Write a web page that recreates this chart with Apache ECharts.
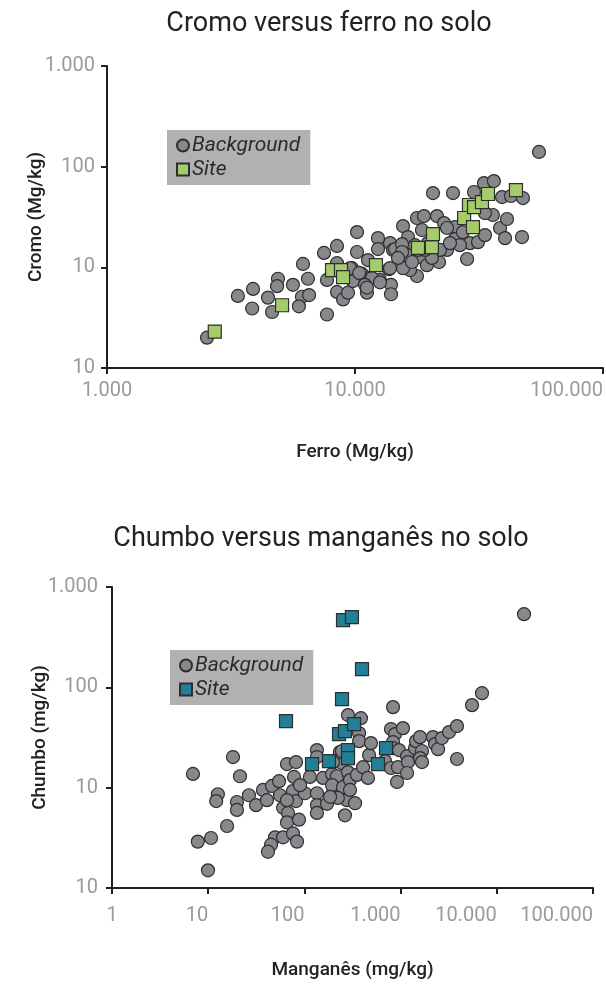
<!DOCTYPE html>
<html lang="pt">

<head>
    <meta charset="UTF-8">
    <title>Cromo / Chumbo no solo</title>
    <script src="https://cdn.jsdelivr.net/npm/echarts@6.0.0/dist/echarts.min.js"></script>
    <style>
        html, body { margin: 0; padding: 0; background: #fff; }
        #cromo_show { width: 606px; height: 500px; }
        #chumbo_show { width: 606px; height: 485px; }
    </style>
</head>

<body>
    <div id="cromo_show"></div>
    <div id="chumbo_show"></div>
</body>

</html>
<script>
    // ---- dados: Cromo x Ferro (x = ferro, y = cromo) ----
    let ferroCromoBackground = [
        [2530, 2.0], [3370, 5.2], [3880, 6.1], [3850, 3.9], [4460, 5.0], [4630, 3.6], [4890, 7.7], [4850, 6.5],
        [5620, 6.7], [6110, 5.1], [6530, 5.3], [5940, 4.1], [6170, 10.8], [6460, 7.7], [7500, 13.9], [8460, 16.3],
        [7710, 7.5], [7710, 3.4], [8460, 11.0], [8460, 5.7], [8950, 4.8], [9370, 5.6], [9720, 9.8], [9810, 7.3],
        [10670, 8.6], [11170, 5.6], [10190, 22.4], [10190, 14.2], [11380, 7.8], [13970, 6.7], [13970, 5.4], [12610, 7.5],
        [13710, 9.6], [11710, 7.8], [9550, 9.8], [15620, 25.7], [16360, 20.0], [13840, 17.4], [12380, 19.5], [12380, 15.2],
        [14230, 14.9], [16210, 13.3], [18290, 12.7], [17780, 30.9], [18970, 32.3], [21410, 32.3], [22860, 27.5], [25310, 25.1],
        [25310, 19.1], [23500, 14.9], [21820, 11.3], [19500, 10.5], [17780, 8.2], [16670, 9.4], [15620, 9.8], [14500, 15.2],
        [15480, 17.0], [23500, 24.6], [27230, 22.4], [29110, 17.4], [31330, 17.8], [33420, 20.9], [38450, 24.6], [28310, 12.1],
        [20630, 54.7], [24840, 54.7], [30200, 56.0], [33110, 68.7], [36310, 71.9], [39170, 49.9], [42560, 51.1], [47550, 48.8],
        [35970, 33.1], [33420, 34.6], [41020, 30.2], [40270, 19.5], [47140, 20.0], [55210, 140], [18620, 23.5], [22020, 14.9],
        [11280, 11.8], [13840, 9.8], [12610, 7.1], [19680, 17.4], [17460, 16.6], [20420, 12.4], [26490, 16.6], [10970, 6.7],
        [15480, 14.2], [16980, 11.3], [14900, 12.4], [17950, 14.9], [19140, 14.9], [24150, 17.4], [11170, 6.3], [10400, 8.8]
    ];
    let ferroCromoSite = [
        [2720, 2.3], [5080, 4.2], [8080, 9.4], [8780, 9.4], [8950, 8.0], [12150, 10.5], [17950, 15.6], [20420, 15.9],
        [20630, 21.4], [27540, 30.9], [29900, 25.1], [28810, 41.6], [30200, 39.7], [32510, 44.5], [34380, 53.5], [44570, 58.6]
    ];
    let ferroTicks = ['1.000', '10.000', '100.000'];     // 10^3 .. 10^5
    let cromoTicks = ['10', '10', '100', '1.000'];       // 10^0 .. 10^3 (como no original)

    // ---- dados: Chumbo x Manganês (x = manganês, y = chumbo) ----
    let mnPbBackground = [
        [6.95, 13.7], [18.1, 20.2], [21.4, 13.0], [12.6, 8.6], [12.1, 7.35], [19.9, 7.2], [19.9, 6.0], [15.7, 4.15],
        [7.8, 2.9], [10.7, 3.15], [9.95, 1.5], [26.5, 8.4], [31.4, 6.7], [37.1, 9.5], [40.8, 7.5], [46.1, 10.4],
        [54.5, 11.6], [55.8, 8.4], [60, 6.3], [65.9, 17.2], [81.8, 18.0], [78, 12.8], [76.1, 9.25], [81.8, 7.35],
        [67.6, 5.6], [65.9, 4.5], [87.9, 4.8], [49.5, 3.2], [60, 3.2], [76.1, 3.5], [83.8, 2.9], [45, 2.7],
        [41.8, 2.3], [101, 8.8], [114, 12.8], [135, 23.7], [135, 20.2], [135, 8.8], [135, 6.7], [135, 5.6],
        [156, 12.5], [172, 6.9], [194, 13.7], [198, 8.8], [223, 11.1], [246, 17.6], [234, 22.6], [264, 5.3],
        [277, 7.5], [284, 52.9], [387, 49.3], [370, 35.0], [370, 29.1], [246, 23.2], [198, 18.0], [218, 13.0],
        [194, 10.6], [252, 10.1], [223, 7.9], [185, 8.1], [284, 14.3], [298, 11.9], [298, 9.5], [336, 7.0],
        [352, 13.4], [407, 16.0], [458, 12.5], [470, 21.1], [492, 27.8], [689, 18.4], [794, 15.7], [794, 38.4],
        [875, 34.2], [1059, 39.2], [834, 28.5], [834, 24.8], [962, 23.7], [939, 16.0], [918, 11.4], [834, 63.5],
        [1167, 20.6], [1194, 18.0], [1167, 14.0], [1413, 24.8], [1446, 29.1], [1592, 31.9], [1668, 23.2], [1592, 19.7],
        [1668, 18.0], [2173, 31.9], [2279, 27.2], [2448, 24.2], [2692, 31.2], [3187, 35.8], [3857, 41.1], [3857, 19.3],
        [5525, 66.5], [7015, 87.5], [19180, 536], [90, 10.6], [65.9, 7.5]
    ];
    let mnPbSite = [
        [64.4, 46.1], [252, 467], [312, 500], [397, 152], [246, 76.3], [229, 34.2], [264, 36.6], [328, 43.0],
        [284, 23.7], [284, 19.7], [120, 17.2], [180, 18.4], [705, 24.8], [582, 17.2]
    ];
    let manganesTicks = ['1', '10', '100', '1.000', '10.000', '100.000'];  // 10^0 .. 10^5
    let chumboTicks = ['10', '10', '100', '1.000'];                         // 10^0 .. 10^3

    const FONT = 'Roboto';
    const AXIS_COLOR = '#231f20';
    const LABEL_COLOR = '#9a9a9a';

    function logAxis(o) {
        let minExp = Math.round(Math.log10(o.min));
        let label = {
            fontFamily: FONT,
            fontSize: 20,
            color: LABEL_COLOR,
            margin: o.margin,
            formatter: function (v) {
                return o.ticks[Math.round(Math.log10(v)) - minExp];
            }
        };
        if (o.align) label.align = o.align;
        if (o.alignMin) label.alignMinLabel = o.alignMin;
        if (o.alignMax) label.alignMaxLabel = o.alignMax;
        return {
            type: 'log',
            logBase: 10,
            min: o.min,
            max: o.max,
            name: o.name,
            nameLocation: 'middle',
            nameGap: o.nameGap,
            nameMoveOverlap: false,
            nameTextStyle: { fontFamily: FONT, fontSize: 19, fontWeight: 500, color: '#222' },
            axisLine: { lineStyle: { color: AXIS_COLOR, width: 2 } },
            axisTick: { length: 6, lineStyle: { color: AXIS_COLOR, width: 2 } },
            splitLine: { show: false },
            axisLabel: label
        };
    }

    function loadChart(id, c) {
        let myChart = echarts.init(document.getElementById(id));
        let option = {
            animation: false,
            title: {
                text: c.title,
                left: c.titleX,
                top: c.titleTop,
                textAlign: 'center',
                textStyle: { fontFamily: FONT, fontSize: 27, fontWeight: 'normal', color: '#222' }
            },
            legend: {
                data: ['Background', 'Site'],
                orient: 'vertical',
                left: c.legend[0],
                top: c.legend[1],
                padding: [5, 10, 5, 9],
                itemGap: 3,
                itemWidth: 12,
                itemHeight: 12,
                backgroundColor: '#b1b1b4',
                textStyle: { fontFamily: FONT, fontSize: 21, fontStyle: 'italic', color: '#2b2b2b', padding: [0, 0, 0, -2] }
            },
            grid: c.grid,
            xAxis: logAxis(c.x),
            yAxis: logAxis(c.y),
            series: [
                {
                    name: 'Background',
                    type: 'scatter',
                    symbol: 'circle',
                    symbolSize: 13,
                    itemStyle: { color: '#87888c', borderColor: '#2e2e2e', borderWidth: 1.2, opacity: 1 },
                    data: c.background
                },
                {
                    name: 'Site',
                    type: 'scatter',
                    symbol: 'rect',
                    symbolSize: 13,
                    itemStyle: { color: c.siteColor, borderColor: '#2e2e2e', borderWidth: 1.2, opacity: 1 },
                    data: c.site
                }
            ]
        };
        myChart.setOption(option);
    }

    // Cromo versus ferro
    loadChart('cromo_show', {
        title: 'Cromo versus ferro no solo',
        titleX: 324,
        titleTop: 6,
        legend: [167, 130],
        grid: { left: 107, top: 66, width: 496, height: 302 },
        x: { min: 1000, max: 100000, ticks: ferroTicks, name: 'Ferro (Mg/kg)', nameGap: 75, margin: 13, alignMin: 'left', alignMax: 'right' },
        y: { min: 1, max: 1000, ticks: cromoTicks, name: 'Cromo (Mg/kg)', nameGap: 61, margin: 12 },
        background: ferroCromoBackground,
        site: ferroCromoSite,
        siteColor: '#a5cc6b'
    });

    // Chumbo versus manganês
    loadChart('chumbo_show', {
        title: 'Chumbo versus manganês no solo',
        titleX: 316,
        titleTop: 21,
        legend: [170, 150],
        grid: { left: 112, top: 87, width: 481, height: 301 },
        x: { min: 1, max: 100000, ticks: manganesTicks, name: 'Manganês (mg/kg)', nameGap: 73, margin: 18, align: 'right', alignMin: 'center' },
        y: { min: 1, max: 1000, ticks: chumboTicks, name: 'Chumbo (mg/kg)', nameGap: 62, margin: 14 },
        background: mnPbBackground,
        site: mnPbSite,
        siteColor: '#217f98'
    });
</script>
